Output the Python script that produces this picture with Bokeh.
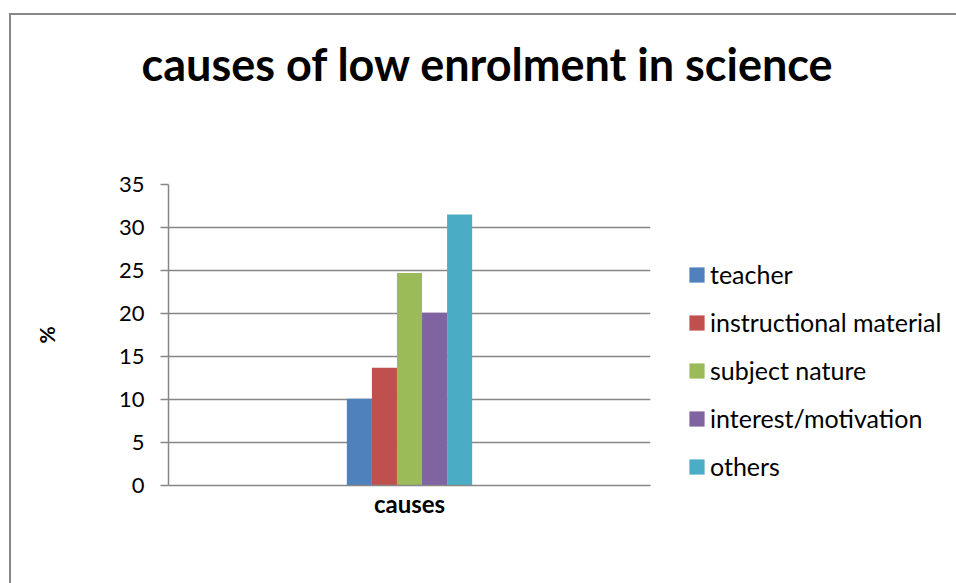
from bokeh.plotting import figure
from bokeh.models import (Legend, LegendItem, ColumnDataSource, FactorRange, Range1d, Title)
from bokeh.layouts import row, column
from bokeh.transform import dodge
from bokeh.embed import file_html
from bokeh.resources import INLINE

# ---- data ----
categories = ["causes"]
series = ["teacher", "instructional material", "subject nature", "interest/motivation", "others"]
values = [10.1, 13.7, 24.7, 20.1, 31.5]
colors = ["#4F81BD", "#C0504D", "#9BBB59", "#8064A2", "#4BACC6"]
y_ticks = [0, 5, 10, 15, 20, 25, 30, 35]
title_text = "causes of low enrolment in science"
y_label = "%"

FONT = "Lato"
GRID = "#868686"

# outer chart-area border offsets (window pixels)
BX, BY, BW = 9, 13, 2
OX, OY = BX + BW, BY + BW
SPLIT = 660                      # window x where the legend panel starts
WT = 956 - OX                    # title strip width
HT = 100                         # title strip height
W1 = SPLIT - OX                  # main figure width
W2 = 956 - SPLIT                 # legend figure width
H = 583 - OY - HT
FL, FR = 168 - OX, 650 - OX
FT, FB = 184 - OY - HT, 485 - OY - HT

# ---- title strip ----
t = figure(width=WT, height=HT, output_backend="svg", toolbar_location=None,
           x_axis_type=None, y_axis_type=None, outline_line_color=None,
           min_border_left=FL, min_border_right=0, min_border_top=0, min_border_bottom=0)
t.grid.visible = False
t.background_fill_color = "white"
t.border_fill_color = "white"
t.add_layout(Title(text=title_text, align="left", offset=-27, standoff=38,
                   text_font=FONT, text_font_style="bold", text_font_size="45px",
                   text_color="black"), "above")

# ---- main chart ----
p = figure(width=W1, height=H, x_range=FactorRange(*categories, range_padding=0),
           y_range=Range1d(0, 35), output_backend="svg", toolbar_location=None,
           min_border_left=FL, min_border_right=W1 - FR, min_border_top=FT,
           min_border_bottom=H - FB, outline_line_color=None)
p.background_fill_color = "white"
p.border_fill_color = "white"

bar_w = 0.052
n = len(series)
for i, (name, val, col) in enumerate(zip(series, values, colors)):
    src = ColumnDataSource(dict(cat=categories, val=[val]))
    off = (i - (n - 1) / 2) * bar_w
    p.vbar(x=dodge("cat", off, range=p.x_range), top="val", width=bar_w, source=src,
           fill_color=col, line_color=None)

p.yaxis.ticker = y_ticks
p.yaxis.major_tick_out = 8
p.yaxis.major_tick_in = 0
p.yaxis.minor_tick_line_color = None
p.yaxis.axis_line_color = GRID
p.yaxis.axis_line_width = 1.5
p.yaxis.major_tick_line_color = GRID
p.yaxis.major_tick_line_width = 1.5
p.yaxis.major_label_text_font = FONT
p.yaxis.major_label_text_font_size = "22px"
p.yaxis.major_label_text_color = "black"
p.yaxis.major_label_standoff = 16
p.yaxis.axis_label = y_label
p.yaxis.axis_label_text_font = FONT
p.yaxis.axis_label_text_font_style = "bold"
p.yaxis.axis_label_text_font_size = "21px"
p.yaxis.axis_label_text_color = "black"
p.yaxis.axis_label_standoff = 57

p.xaxis.axis_line_color = GRID
p.xaxis.axis_line_width = 1.5
p.xaxis.major_tick_line_color = None
p.xaxis.minor_tick_line_color = None
p.xaxis.major_label_text_font = FONT
p.xaxis.major_label_text_font_style = "bold"
p.xaxis.major_label_text_font_size = "24px"
p.xaxis.major_label_text_color = "black"
p.xaxis.major_label_standoff = -3

p.xgrid.grid_line_color = None
p.ygrid.ticker = y_ticks
p.ygrid.grid_line_color = GRID
p.ygrid.grid_line_width = 1.5

# ---- legend panel ----
q = figure(width=W2, height=H, x_range=Range1d(0, 1), y_range=Range1d(0, 1),
           output_backend="svg", toolbar_location=None, min_border=0,
           x_axis_type=None, y_axis_type=None, outline_line_color=None)
q.grid.visible = False
q.background_fill_color = "white"
q.border_fill_color = "white"
items = []
for name, val, col in zip(series, values, colors):
    src = ColumnDataSource(dict(cat=[0.5], val=[val]))
    r = q.vbar(x="cat", top="val", width=0.1, source=src, fill_color=col,
               line_color=None, visible=False)
    items.append(LegendItem(label=name, renderers=[r]))

legend = Legend(items=items, location=(687 - SPLIT, 4), orientation="vertical",
                glyph_width=19, glyph_height=19, label_height=30, spacing=18,
                label_standoff=4, padding=0, margin=0, border_line_color=None,
                background_fill_alpha=0, label_text_font=FONT, label_text_font_size="25px",
                label_text_color="black")
q.add_layout(legend)

layout = column(t, row(p, q, spacing=0), spacing=0)
layout.styles = {"margin-left": f"{BX}px", "margin-top": f"{BY}px",
                 "border-left": f"{BW}px solid #888888", "border-top": f"{BW}px solid #888888"}

open("out.html", "w").write(file_html(layout, INLINE))
